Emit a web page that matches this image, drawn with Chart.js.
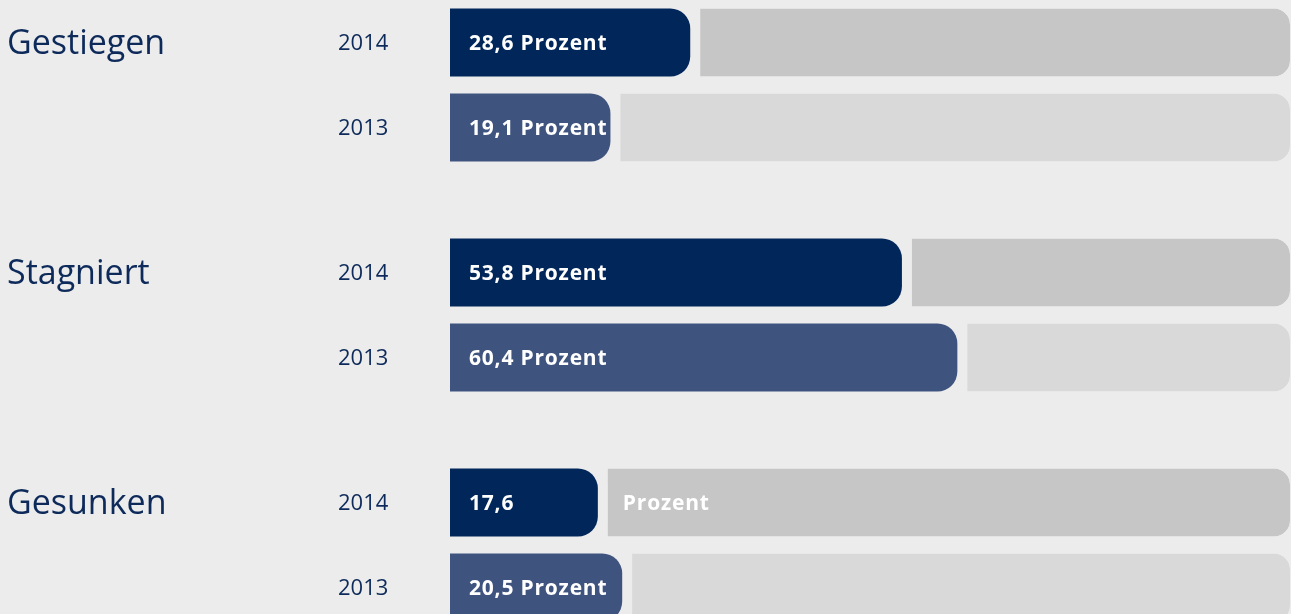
<!DOCTYPE html>
<html>
<head>
<meta charset="utf-8">
<script src="https://cdn.jsdelivr.net/npm/chart.js@4/dist/chart.umd.min.js"></script>
<style>
  html, body { margin: 0; padding: 0; background: #ececec; overflow: hidden; width: 1291px; height: 614px; }
  #wrap { position: absolute; left: 0; top: -30px; width: 1291px; height: 690px; }
</style>
</head>
<body>
<div id="wrap"><canvas id="c"></canvas></div>
<script>
const categories = ['Gestiegen', 'Stagniert', 'Gesunken'];
const years = ['2014', '2013'];
const values2014 = [28.6, 53.8, 17.6];
const values2013 = [19.1, 60.4, 20.5];
const unit = 'Prozent';

const BG = '#ececec';
const NAVY = '#00265a';
const MID = '#3f537f';
const GRAY14 = '#c5c6c5';
const GRAY13 = '#d8d9d8';
const TEXT = '#0d2a5a';

const rest = arr => arr.map(v => 100 - v);

const valueStyle = (color) => ({
  backgroundColor: color,
  borderWidth: 0,
  borderSkipped: false,
  borderRadius: { topLeft: 0, bottomLeft: 0, topRight: 20, bottomRight: 20 }
});
const restStyle = (color) => ({
  backgroundColor: color,
  borderColor: BG,
  borderWidth: { left: 10, top: 0, right: 0, bottom: 0 },
  borderSkipped: false,
  borderRadius: { topLeft: 0, bottomLeft: 0, topRight: 16, bottomRight: 16 }
});

const fmt = v => v.toFixed(1).replace('.', ',');

const labelPlugin = {
  id: 'labels',
  afterDatasetsDraw(chart) {
    const ctx = chart.ctx;
    const m14 = chart.getDatasetMeta(0).data;
    const m13 = chart.getDatasetMeta(2).data;
    const vals = [values2014, values2013];
    ctx.save();
    ctx.textBaseline = 'middle';
    ctx.textAlign = 'left';
    categories.forEach((cat, i) => {
      const bars = [m14[i], m13[i]];
      ctx.fillStyle = TEXT;
      ctx.letterSpacing = '0px';
      ctx.font = '400 34px "Open Sans"';
      ctx.fillText(cat, 7, bars[0].y + 2);
      bars.forEach((b, k) => {
        ctx.fillStyle = TEXT;
        ctx.letterSpacing = '0px';
        ctx.font = '400 22px "Open Sans"';
        ctx.fillText(years[k], 338, b.y + 1);
        ctx.fillStyle = '#ffffff';
        ctx.font = '700 21px "Open Sans"';
        ctx.letterSpacing = '0.8px';
        const full = fmt(vals[k][i]) + ' ' + unit;
        const x0 = b.base + 19;
        const w = ctx.measureText(full).width;
        if (x0 + w > b.x - 2) {
          ctx.fillText(fmt(vals[k][i]), x0, b.y + 2);
          ctx.fillText(unit, b.x + 25, b.y + 2);
        } else {
          ctx.fillText(full, x0, b.y + 2);
        }
      });
    });
    ctx.restore();
  }
};

new Chart(document.getElementById('c'), {
  type: 'bar',
  data: {
    labels: categories,
    datasets: [
      Object.assign({ label: '2014', data: values2014, stack: 's2014' }, valueStyle(NAVY)),
      Object.assign({ label: '2014 rest', data: rest(values2014), stack: 's2014' }, restStyle(GRAY14)),
      Object.assign({ label: '2013', data: values2013, stack: 's2013' }, valueStyle(MID)),
      Object.assign({ label: '2013 rest', data: rest(values2013), stack: 's2013' }, restStyle(GRAY13))
    ]
  },
  options: {
    indexAxis: 'y',
    responsive: true,
    maintainAspectRatio: false,
    animation: false,
    layout: { padding: { left: 450, right: 1, top: 0, bottom: 0 } },
    datasets: { bar: { categoryPercentage: 0.739, barPercentage: 0.8 } },
    scales: {
      x: { display: false, stacked: true, min: 0, max: 100 },
      y: { display: false, stacked: true }
    },
    plugins: { legend: { display: false }, tooltip: { enabled: false } }
  },
  plugins: [labelPlugin]
});
</script>
</body>
</html>
